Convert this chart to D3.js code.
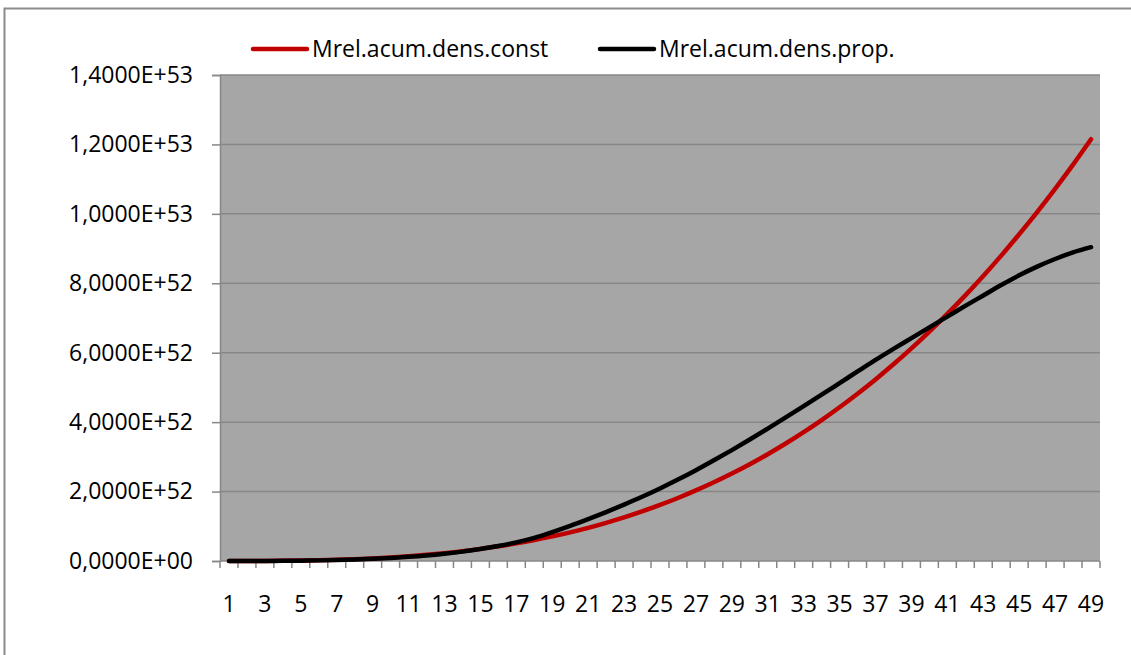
<!DOCTYPE html>
<html>
<head>
<meta charset="utf-8">
<script src="https://cdn.jsdelivr.net/npm/d3@7"></script>
<style>
  html, body { margin: 0; padding: 0; background: #fff; }
  svg text { font-family: "Open Sans", "Noto Sans", sans-serif; fill: #000; }
</style>
</head>
<body>
<svg id="chart" width="1131" height="655"></svg>
<script>
(function () {

    // categories 1..49
    const categories = d3.range(1, 50);

    // Mrel.acum.dens.const
    const densConst = [
        0.0001e52, 0.0008e52, 0.0028e52, 0.0066e52, 0.0129e52, 0.0223e52, 0.0354e52, 0.0529e52, 0.0753e52, 0.103e52,
        0.137e52, 0.178e52, 0.227e52, 0.283e52, 0.349e52, 0.423e52, 0.507e52, 0.602e52, 0.708e52, 0.826e52,
        0.956e52, 1.100e52, 1.256e52, 1.428e52, 1.614e52, 1.815e52, 2.033e52, 2.267e52, 2.519e52, 2.788e52,
        3.076e52, 3.384e52, 3.711e52, 4.059e52, 4.428e52, 4.818e52, 5.231e52, 5.667e52, 6.126e52, 6.609e52,
        7.117e52, 7.651e52, 8.211e52, 8.797e52, 9.411e52, 10.05e52, 10.72e52, 11.42e52, 12.15e52
    ];

    // Mrel.acum.dens.prop.
    const densProp = [
        0.0001e52, 0.0006e52, 0.002e52, 0.005e52, 0.010e52, 0.018e52, 0.029e52, 0.044e52, 0.064e52, 0.089e52,
        0.12e52, 0.16e52, 0.21e52, 0.27e52, 0.345e52, 0.43e52, 0.535e52, 0.665e52, 0.83e52, 1.01e52,
        1.205e52, 1.41e52, 1.625e52, 1.85e52, 2.09e52, 2.345e52, 2.615e52, 2.90e52, 3.195e52, 3.50e52,
        3.815e52, 4.135e52, 4.46e52, 4.79e52, 5.125e52, 5.46e52, 5.795e52, 6.11e52, 6.42e52, 6.73e52,
        7.04e52, 7.35e52, 7.65e52, 7.95e52, 8.23e52, 8.48e52, 8.70e52, 8.89e52, 9.04e52
    ];

    const seriesNames = ['Mrel.acum.dens.const', 'Mrel.acum.dens.prop.'];
    const seriesColors = ['#c00000', '#000000'];

    const yTicks = [0, 2e52, 4e52, 6e52, 8e52, 10e52, 12e52, 14e52];
    const xTickLabels = categories.filter((d) => d % 2 === 1);

    const svg = d3.select('#chart');

    const plot = { left: 220, top: 75, right: 1100, bottom: 561 };
    const fontSize = 23;

    // outer frame (runs off the bottom and right edges)
    svg.append('rect')
        .attr('x', 4.5)
        .attr('y', 8.5)
        .attr('width', 1140)
        .attr('height', 700)
        .attr('fill', '#fff')
        .attr('stroke', '#8c8c8c')
        .attr('stroke-width', 2);

    const x = d3.scaleBand()
        .domain(categories)
        .range([plot.left, plot.right]);

    const y = d3.scaleLinear()
        .domain([0, 14e52])
        .range([plot.bottom, plot.top]);

    const fmtExp = (v) => {
        const s = d3.format('.4e')(v);
        const [mant, exp] = s.split('e');
        const sign = exp[0] === '-' ? '-' : '+';
        const digits = exp.replace(/[+-]/, '').padStart(2, '0');
        return mant.replace('.', ',') + 'E' + sign + digits;
    };

    // plot background
    svg.append('rect')
        .attr('x', plot.left)
        .attr('y', plot.top)
        .attr('width', plot.right - plot.left)
        .attr('height', plot.bottom - plot.top)
        .attr('fill', '#a6a6a6');

    // gridlines
    svg.append('g')
        .selectAll('line')
        .data(yTicks.slice(1))
        .join('line')
        .attr('x1', plot.left)
        .attr('x2', plot.right)
        .attr('y1', (d) => y(d))
        .attr('y2', (d) => y(d))
        .attr('stroke', '#878787')
        .attr('stroke-width', 1.5);

    // y axis
    const yAxis = svg.append('g')
        .attr('transform', `translate(${plot.left},0)`)
        .call(d3.axisLeft(y).tickValues(yTicks).tickFormat(fmtExp).tickSize(8).tickPadding(19));
    yAxis.select('.domain').attr('stroke', '#878787').attr('stroke-width', 1.5);
    yAxis.selectAll('.tick line').attr('stroke', '#878787').attr('stroke-width', 1.5);
    yAxis.selectAll('.tick text').attr('font-size', fontSize).attr('font-family', '"Open Sans", sans-serif');

    // x axis: ticks between categories
    const xg = svg.append('g');
    xg.append('line')
        .attr('x1', plot.left).attr('x2', plot.right)
        .attr('y1', plot.bottom).attr('y2', plot.bottom)
        .attr('stroke', '#878787').attr('stroke-width', 1.5);
    xg.selectAll('line.tk')
        .data(categories.concat([categories.length + 1]))
        .join('line')
        .attr('class', 'tk')
        .attr('x1', (d, i) => plot.left + i * x.step())
        .attr('x2', (d, i) => plot.left + i * x.step())
        .attr('y1', plot.bottom)
        .attr('y2', plot.bottom + 7)
        .attr('stroke', '#878787')
        .attr('stroke-width', 1.5);
    xg.selectAll('text')
        .data(xTickLabels)
        .join('text')
        .attr('x', (d) => x(d) + x.bandwidth() / 2)
        .attr('y', 612)
        .attr('text-anchor', 'middle')
        .attr('font-size', fontSize)
        .text((d) => d);

    // lines
    const line = d3.line()
        .curve(d3.curveMonotoneX)
        .x((d, i) => x(categories[i]) + x.bandwidth() / 2)
        .y((d) => y(d));

    [densConst, densProp].forEach((vals, i) => {
        svg.append('path')
            .datum(vals)
            .attr('d', line)
            .attr('fill', 'none')
            .attr('stroke', seriesColors[i])
            .attr('stroke-width', 4.5)
            .attr('stroke-linecap', 'round')
            .attr('stroke-linejoin', 'round');
    });

    // legend
    const legendX = [253, 600];
    const legend = svg.append('g');
    seriesNames.forEach((name, i) => {
        legend.append('line')
            .attr('x1', legendX[i]).attr('x2', legendX[i] + 54)
            .attr('y1', 49).attr('y2', 49)
            .attr('stroke', seriesColors[i])
            .attr('stroke-width', 4.5)
            .attr('stroke-linecap', 'round');
        legend.append('text')
            .attr('x', legendX[i] + 59)
            .attr('y', 57)
            .attr('font-size', fontSize)
            .text(name);
    });

})();
</script>
</body>
</html>
